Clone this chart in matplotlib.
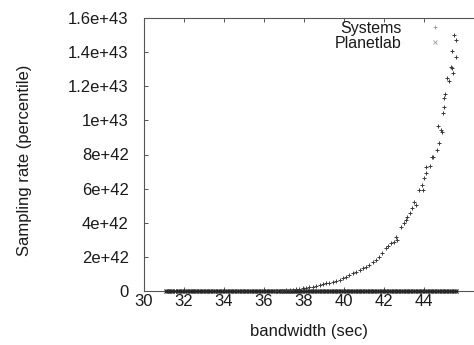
import matplotlib
matplotlib.use("Agg")
import matplotlib.pyplot as plt
import numpy as np

plt.rcParams["font.family"] = ["Liberation Sans", "DejaVu Sans"]
plt.rcParams["font.size"] = 12

# Systems: the rising curve (y in units of 1e42)
systems_x = [36.6, 36.9, 37.1, 37.3, 37.45, 37.61, 37.75, 37.94, 38.1, 38.27,
             38.45, 38.6, 38.78, 38.93, 39.1, 39.27, 39.45, 39.6, 39.78, 39.93,
             40.1, 40.26, 40.45, 40.6, 40.78, 40.93, 41.1, 41.26, 41.45, 41.59,
             41.76, 41.92, 42.09, 42.2, 42.34, 42.51, 42.59, 42.67, 42.84, 43.0,
             43.09, 43.17, 43.3, 43.42, 43.5, 43.59, 43.75, 43.92, 43.95, 44.0,
             44.09, 44.09, 44.29, 44.38, 44.45, 44.66, 44.71, 44.75, 44.83, 44.88,
             44.95, 45.0, 45.0, 45.05, 45.16, 45.25, 45.33, 45.38, 45.41, 45.45,
             45.5, 45.58, 45.61]
systems_y = [0.01, 0.02, 0.03, 0.05, 0.07, 0.10, 0.12, 0.16, 0.19, 0.22,
             0.26, 0.29, 0.35, 0.41, 0.45, 0.49, 0.55, 0.60, 0.67, 0.74,
             0.83, 0.94, 1.03, 1.13, 1.22, 1.33, 1.43, 1.52, 1.68, 1.82,
             2.01, 2.21, 2.50, 2.62, 2.80, 2.89, 3.18, 2.99, 3.77, 3.97,
             4.16, 4.36, 4.55, 4.85, 5.23, 5.04, 5.92, 6.21, 5.92, 6.61,
             6.90, 7.29, 7.33, 7.87, 7.84, 8.26, 9.67, 8.66, 9.43, 9.34,
             10.42, 10.77, 11.30, 11.55, 12.47, 12.33, 13.15, 14.09, 13.05, 12.76,
             15.0, 13.73, 14.71]

# Planetlab: flat along zero
planetlab_x = [31.1, 31.2, 31.3, 31.4, 31.55, 31.7, 31.8, 31.9, 32.05, 32.15,
               32.3, 32.4, 32.5, 32.6, 32.75, 32.85, 32.95, 33.1, 33.2, 33.3,
               33.45, 33.55, 33.7, 33.8, 33.9, 34.05, 34.15, 34.3, 34.4, 34.5,
               34.65, 34.75, 34.9, 35.0, 35.1, 35.25, 35.35, 35.5, 35.6, 35.7,
               35.85, 35.95, 36.1, 36.2, 36.3, 36.45, 36.55, 36.7, 36.8, 36.9,
               37.0, 37.1, 37.2, 37.3, 37.4, 37.5, 37.6, 37.7, 37.8, 37.9,
               38.05, 38.15, 38.3, 38.4, 38.5, 38.65, 38.75, 38.9, 39.0, 39.1,
               39.25, 39.35, 39.5, 39.6, 39.7, 39.85, 39.95, 40.1, 40.2, 40.3,
               40.45, 40.55, 40.7, 40.8, 40.9, 41.05, 41.15, 41.3, 41.4, 41.5,
               41.65, 41.75, 41.9, 42.0, 42.1, 42.25, 42.35, 42.5, 42.6, 42.7,
               42.85, 42.95, 43.1, 43.2, 43.3, 43.45, 43.55, 43.7, 43.8, 43.9,
               44.05, 44.15, 44.3, 44.4, 44.5, 44.65, 44.75, 44.9, 45.0, 45.1,
               45.25, 45.35, 45.5, 45.6]
planetlab_y = [0.0] * len(planetlab_x)

SCALE = 1e42

x_ticks = [30, 32, 34, 36, 38, 40, 42, 44]
y_ticks = [0, 2, 4, 6, 8, 10, 12, 14, 16]
y_tick_labels = ["0", "2e+42", "4e+42", "6e+42", "8e+42", "1e+43",
                 "1.2e+43", "1.4e+43", "1.6e+43"]

fig = plt.figure(figsize=(4.74, 3.45), dpi=100)
ax = fig.add_axes([144 / 474, 1 - 291 / 345, 330 / 474, 273 / 345])

pt_color = "#3a3a3a"
ax.plot(planetlab_x, np.array(planetlab_y) * SCALE, linestyle="none", marker="x",
        markersize=3.2, markeredgewidth=0.9, color="#222222", label="Planetlab",
        clip_on=False, zorder=3)
ax.plot(systems_x, np.array(systems_y) * SCALE, linestyle="none", marker="+",
        markersize=3, markeredgewidth=0.7, color=pt_color, label="Systems",
        zorder=4)

ax.set_xlim(30, 46.5)
ax.set_ylim(0, 16 * SCALE)
ax.set_xticks(x_ticks)
ax.set_xticklabels([str(t) for t in x_ticks])
ax.set_yticks([t * SCALE for t in y_ticks])
ax.set_yticklabels(y_tick_labels)

for s in ["left", "top", "bottom"]:
    ax.spines[s].set_color("#555555")
    ax.spines[s].set_linewidth(0.8)
ax.spines["right"].set_visible(False)

ax.tick_params(axis="both", direction="in", length=3, width=0.7, color="#555555",
               labelcolor="#1a1a1a", labelsize=12)
ax.tick_params(axis="x", top=True, pad=2)
ax.tick_params(axis="y", pad=11)

ax.set_xlabel("bandwidth (sec)", color="#1a1a1a", fontsize=12)
ax.xaxis.set_label_coords(0.5, -0.149)
ax.xaxis.label.set_va("center")
ax.set_ylabel("Sampling rate (percentile)", color="#1a1a1a", fontsize=12)
ax.yaxis.set_label_coords(-0.361, 0.48)
ax.yaxis.label.set_va("center")

handles, labels = ax.get_legend_handles_labels()
leg = ax.legend(handles[::-1], labels[::-1], loc="upper right",
                bbox_to_anchor=(0.907, 0.99), markerfirst=False,
                frameon=False, handlelength=1.0, handletextpad=1.6, borderpad=0,
                borderaxespad=0, labelspacing=0.0, fontsize=11.5,
                labelcolor="#1a1a1a")
# the legend markers in the original are faint grey
for h in leg.legend_handles:
    h.set_color("#999999")
    h.set_markeredgewidth(0.6)

fig.savefig("out.png", dpi=100)
